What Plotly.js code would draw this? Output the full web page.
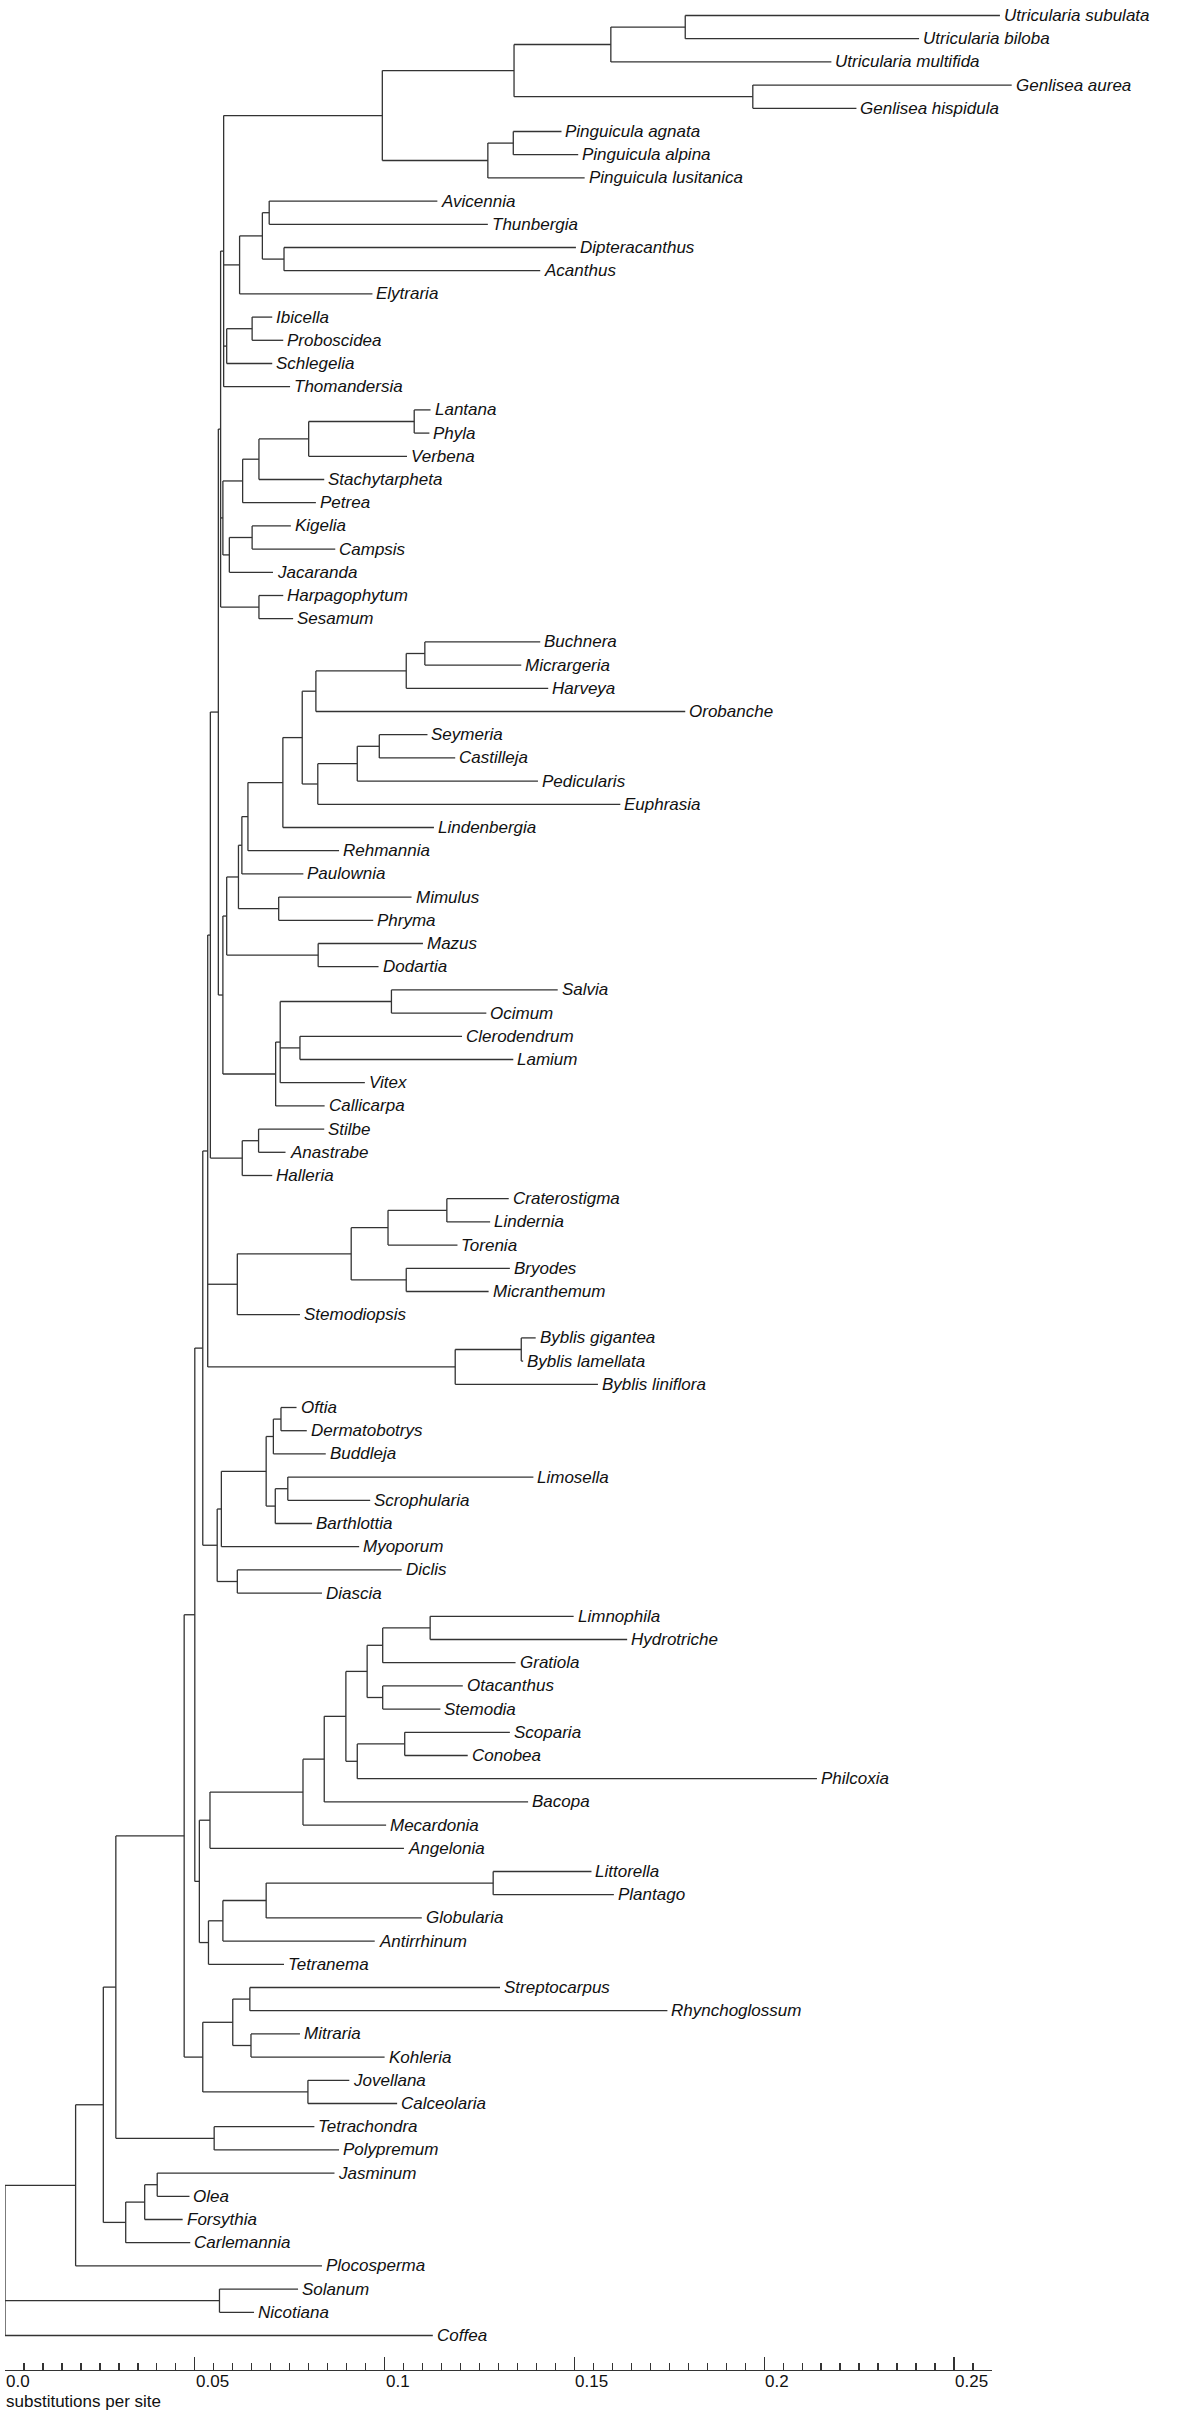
<!DOCTYPE html>
<html><head><meta charset="utf-8">
<script src="https://cdn.plot.ly/plotly-3.0.1.min.js"></script>
<style>html,body{margin:0;padding:0;background:#fff}#chart{width:1200px;height:2425px}</style>
</head><body><div id="chart"></div>
<script>
// Leaf (tip) names, top to bottom
const leafNames = [
 'Utricularia subulata','Utricularia biloba','Utricularia multifida','Genlisea aurea','Genlisea hispidula',
 'Pinguicula agnata','Pinguicula alpina','Pinguicula lusitanica','Avicennia','Thunbergia',
 'Dipteracanthus','Acanthus','Elytraria','Ibicella','Proboscidea',
 'Schlegelia','Thomandersia','Lantana','Phyla','Verbena',
 'Stachytarpheta','Petrea','Kigelia','Campsis','Jacaranda',
 'Harpagophytum','Sesamum','Buchnera','Micrargeria','Harveya',
 'Orobanche','Seymeria','Castilleja','Pedicularis','Euphrasia',
 'Lindenbergia','Rehmannia','Paulownia','Mimulus','Phryma',
 'Mazus','Dodartia','Salvia','Ocimum','Clerodendrum',
 'Lamium','Vitex','Callicarpa','Stilbe','Anastrabe',
 'Halleria','Craterostigma','Lindernia','Torenia','Bryodes',
 'Micranthemum','Stemodiopsis','Byblis gigantea','Byblis lamellata','Byblis liniflora',
 'Oftia','Dermatobotrys','Buddleja','Limosella','Scrophularia',
 'Barthlottia','Myoporum','Diclis','Diascia','Limnophila',
 'Hydrotriche','Gratiola','Otacanthus','Stemodia','Scoparia',
 'Conobea','Philcoxia','Bacopa','Mecardonia','Angelonia',
 'Littorella','Plantago','Globularia','Antirrhinum','Tetranema',
 'Streptocarpus','Rhynchoglossum','Mitraria','Kohleria','Jovellana',
 'Calceolaria','Tetrachondra','Polypremum','Jasminum','Olea',
 'Forsythia','Carlemannia','Plocosperma','Solanum','Nicotiana',
 'Coffea'
];
// Tip depths (substitutions per site from the root)
const leafDepths = [
 0.2621,0.2408,0.2177,0.2652,0.2243,
 0.1466,0.1510,0.1527,0.1139,0.1272,
 0.1504,0.1410,0.0968,0.0704,0.0733,
 0.0704,0.0751,0.1121,0.1118,0.1059,
 0.0841,0.0819,0.0753,0.0870,0.0706,
 0.0733,0.0759,0.1410,0.1360,0.1431,
 0.1792,0.1113,0.1186,0.1404,0.1621,
 0.1130,0.0880,0.0786,0.1071,0.0970,
 0.1101,0.0984,0.1456,0.1268,0.1204,
 0.1339,0.0948,0.0842,0.0841,0.0739,
 0.0704,0.1327,0.1278,0.1192,0.1330,
 0.1274,0.0777,0.1398,0.1365,0.1562,
 0.0768,0.0795,0.0845,0.1392,0.0962,
 0.0809,0.0933,0.1045,0.0835,0.1498,
 0.1639,0.1345,0.1206,0.1147,0.1330,
 0.1219,0.2139,0.1378,0.1004,0.1051,
 0.1545,0.1604,0.1098,0.0974,0.0735,
 0.1304,0.1745,0.0777,0.1000,0.0907,
 0.1033,0.0815,0.0880,0.0868,0.0486,
 0.0468,0.0488,0.0835,0.0772,0.0656,
 0.1127
];
// Internal nodes: each is the clade of leaves cladeFirst..cladeLast (1-based), at depth cladeDepth
const cladeFirst = [1,1,4,1,6,6,1, 9,11,9,9, 14,14, 1, 18,18,18,18, 23,23,18, 26, 1,
 28,28,28,32,32,32,28,28,28,28,39,28,41,28, 43,45,43,43, 28, 1, 49,49, 1,
 52,52,55,52,52, 58,58, 1, 61,61,64,64,61,61,68,61, 1,
 70,70,73,70,75,75,70,70,70,70,81,81,81,81,70, 1,
 86,88,86,90,86, 1, 92, 1, 94,94,94, 1, 1, 99, 1];
const cladeLast = [2,3,5,5,7,8,8, 10,12,12,13, 15,16, 17, 19,20,21,22, 24,25,25, 27, 27,
 29,30,31,33,34,35,35,36,37,38,40,40,42,42, 44,46,47,48, 48, 48, 50,51, 51,
 53,54,56,56,57, 59,60, 60, 62,63,65,66,66,67,69,69, 69,
 71,72,74,74,76,77,77,78,79,80,82,83,84,85,85, 85,
 87,89,89,91,91, 91, 93, 93, 95,96,97, 97, 98, 100, 101];
const cladeDepth = [0.1792,0.1596,0.1970,0.1341,0.1339,0.1272,0.0994, 0.0696,0.0735,0.0678,0.0618, 0.0651,0.0584, 0.0576,
 0.1078,0.0800,0.0669,0.0626, 0.0651,0.0591,0.0574, 0.0669, 0.0568,
 0.1106,0.1057,0.0819,0.0986,0.0928,0.0824,0.0783,0.0732,0.0640,0.0624,0.0721,0.0615,0.0825,0.0584,
 0.1018,0.0777,0.0725,0.0713, 0.0574, 0.0562, 0.0668,0.0625, 0.0541,
 0.1164,0.1009,0.1057,0.0912,0.0612, 0.1360,0.1186, 0.0534,
 0.0727,0.0707,0.0745,0.0712,0.0688,0.0570,0.0612,0.0559, 0.0521,
 0.1120,0.0995,0.0995,0.0954,0.1053,0.0928,0.0898,0.0841,0.0785,0.0540,0.1286,0.0688,0.0574,0.0536,0.0512, 0.0500,
 0.0645,0.0648,0.0600,0.0798,0.0521, 0.0472, 0.0551, 0.0292, 0.0401,0.0368,0.0318, 0.0259, 0.0186, 0.0565, 0.0];
const tickValues = [0, 0.05, 0.1, 0.15, 0.2, 0.25];
const tickLabels = ['0.0', '0.05', '0.1', '0.15', '0.2', '0.25'];
const axisTitle = 'substitutions per site';

// ---- build tree from the clade table ----
const nodes = [];
leafNames.forEach((n, i) => nodes.push({first: i + 1, last: i + 1, depth: leafDepths[i], name: n}));
cladeFirst.forEach((f, i) => nodes.push({first: f, last: cladeLast[i], depth: cladeDepth[i]}));
nodes.forEach(nd => {
  let best = null;
  nodes.forEach(c => {
    if (c === nd) return;
    const cs = c.last - c.first, ns = nd.last - nd.first;
    if (c.first <= nd.first && c.last >= nd.last && cs > ns) {
      if (!best || cs < (best.last - best.first)) best = c;
    }
  });
  nd.parent = best;
  nd.children = [];
});
nodes.forEach(nd => { if (nd.parent) nd.parent.children.push(nd); });
nodes.forEach(nd => nd.children.sort((a, b) => a.first - b.first));
function yOf(nd) {
  if (nd.y !== undefined) return nd.y;
  if (!nd.children.length) nd.y = nd.first;
  else nd.y = (yOf(nd.children[0]) + yOf(nd.children[nd.children.length - 1])) / 2;
  return nd.y;
}
nodes.forEach(yOf);
const lx = [], ly = [];
nodes.forEach(nd => {
  if (nd.parent) { lx.push(nd.parent.depth, nd.depth, null); ly.push(nd.y, nd.y, null); }
  if (nd.children.length) {
    lx.push(nd.depth, nd.depth, null);
    ly.push(nd.children[0].y, nd.children[nd.children.length - 1].y, null);
  }
});

const FONT = '"Liberation Sans", Arial, Helvetica, sans-serif';
const LINE = '#333333';
const pxPerUnit = 3796, L = 5, W = 1200;
const x2max = (W - L) / pxPerUnit;

const annotations = [];
nodes.filter(n => n.name).forEach(n => annotations.push({
  xref: 'x2', yref: 'y', x: n.depth, y: n.y, text: '<i>' + n.name + '</i>', showarrow: false,
  xanchor: 'left', yanchor: 'middle', xshift: 2,
  font: {family: FONT, size: 17, color: '#111111'}
}));
tickValues.forEach((v, i) => annotations.push({
  xref: 'x', yref: 'paper', x: v, y: 0, text: tickLabels[i], showarrow: false,
  xanchor: 'left', yanchor: 'middle', yshift: -11, xshift: -1,
  font: {family: FONT, size: 17, color: '#111111'}
}));
annotations.push({
  xref: 'x', yref: 'paper', x: 0, y: 0, text: axisTitle, showarrow: false,
  xanchor: 'left', yanchor: 'middle', yshift: -31, xshift: -1,
  font: {family: FONT, size: 17, color: '#111111'}
});

const data = [
  {type: 'scatter', mode: 'lines', x: lx, y: ly, xaxis: 'x2', yaxis: 'y',
   line: {color: LINE, width: 1.3}, hoverinfo: 'skip', showlegend: false},
  {type: 'scatter', mode: 'markers', x: [0], y: [50], xaxis: 'x', yaxis: 'y',
   marker: {opacity: 0}, hoverinfo: 'skip', showlegend: false}
];
const layout = {
  width: 1200, height: 2425,
  margin: {l: L, r: 0, t: 0, b: 55, pad: 0},
  paper_bgcolor: '#ffffff', plot_bgcolor: 'rgba(0,0,0,0)',
  showlegend: false,
  xaxis: {domain: [0, 0.26 / x2max], range: [0, 0.26], anchor: 'y',
    showline: true, linecolor: LINE, linewidth: 1.3,
    ticks: 'inside', ticklen: 13, tickwidth: 1.3, tickcolor: LINE,
    tickmode: 'linear', tick0: 0, dtick: 0.05, showticklabels: false,
    showgrid: false, zeroline: false, fixedrange: true,
    minor: {ticks: 'inside', ticklen: 7, tickwidth: 1.3, tickcolor: LINE,
      tickmode: 'linear', tick0: 0, dtick: 0.005, showgrid: false}},
  xaxis2: {domain: [0, 1], range: [0, x2max], anchor: 'y', visible: false, fixedrange: true},
  yaxis: {range: [102.487, 0.332], visible: false, fixedrange: true},
  annotations: annotations
};
Plotly.newPlot('chart', data, layout, {staticPlot: true, displayModeBar: false});
</script>
</body></html>
